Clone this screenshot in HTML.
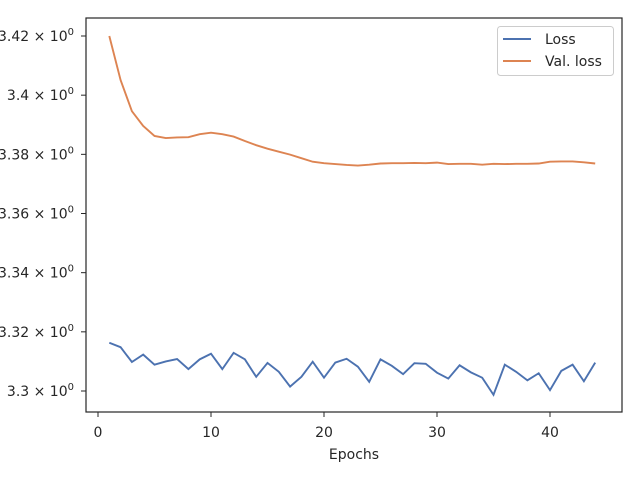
<!DOCTYPE html>
<html><head><meta charset="utf-8"><style>
body{margin:0;background:#fff}
svg text{font-family:"DejaVu Sans","Liberation Sans",sans-serif;fill:#262626}
</style></head><body>
<svg id="chart" width="640" height="480" xmlns="http://www.w3.org/2000/svg">
<rect x="0" y="0" width="640" height="480" fill="#fff"/>
<g id="ticks"></g>
<g id="lines"></g>
<rect x="86" y="18" width="536" height="394" fill="none" stroke="#262626" stroke-width="1.2"/>
<text x="354" y="459" font-size="14" text-anchor="middle">Epochs</text>
<g>
<rect x="497.5" y="26.5" width="116" height="49" rx="3" fill="#fff" fill-opacity="0.8" stroke="#ccc"/>
<line x1="503" y1="39" x2="531" y2="39" stroke="#4c72b0" stroke-width="1.9"/>
<text x="545" y="44" font-size="14">Loss</text>
<line x1="503" y1="61" x2="531" y2="61" stroke="#dd8452" stroke-width="1.9"/>
<text x="545" y="66" font-size="14">Val. loss</text>
</g>
</svg>
<script>
const epochs=[1,2,3,4,5,6,7,8,9,10,11,12,13,14,15,16,17,18,19,20,21,22,23,24,25,26,27,28,29,30,31,32,33,34,35,36,37,38,39,40,41,42,43,44];
const loss=[3.3163,3.3148,3.3098,3.3123,3.3089,3.3100,3.3108,3.3074,3.3107,3.3126,3.3074,3.3129,3.3107,3.3048,3.3095,3.3065,3.3015,3.3048,3.3099,3.3045,3.3096,3.3109,3.3082,3.3031,3.3107,3.3085,3.3057,3.3094,3.3092,3.3062,3.3042,3.3087,3.3063,3.3045,3.2987,3.3089,3.3065,3.3036,3.3060,3.3003,3.3068,3.3089,3.3033,3.3096];
const valLoss=[3.4200,3.4051,3.3946,3.3896,3.3862,3.3855,3.3857,3.3858,3.3868,3.3873,3.3868,3.3860,3.3845,3.3831,3.3819,3.3809,3.3799,3.3787,3.3775,3.3770,3.3767,3.3764,3.3762,3.3765,3.3769,3.3770,3.3770,3.3771,3.3770,3.3772,3.3767,3.3768,3.3768,3.3765,3.3768,3.3767,3.3768,3.3768,3.3769,3.3775,3.3776,3.3776,3.3773,3.3769];
const xTicks=[0,10,20,30,40];
const yTicks=[3.3,3.32,3.34,3.36,3.38,3.4,3.42];
const yTickLabels=["3.3","3.32","3.34","3.36","3.38","3.4","3.42"];
const NS="http://www.w3.org/2000/svg";
function xs(v){return 98+11.3*v;}
function ys(v){return 391-(v-3.3)*2958.3;}
const tg=document.getElementById('ticks');
xTicks.forEach(t=>{
  const l=document.createElementNS(NS,'line');
  
  
  l.setAttribute('x1',xs(t));l.setAttribute('x2',xs(t));l.setAttribute('y1',412);l.setAttribute('y2',417);l.setAttribute('stroke','#262626');
  tg.appendChild(l);
  const tx=document.createElementNS(NS,'text');
  
  
  tx.setAttribute('x',xs(t));tx.setAttribute('y',437);tx.setAttribute('font-size','14');tx.setAttribute('text-anchor','middle');
  tx.textContent=t;tg.appendChild(tx);
});
yTicks.forEach((t,i)=>{
  const l=document.createElementNS(NS,'line');
  
  
  l.setAttribute('x1',81);l.setAttribute('x2',86);l.setAttribute('y1',ys(t));l.setAttribute('y2',ys(t));l.setAttribute('stroke','#262626');
  tg.appendChild(l);
  const tx=document.createElementNS(NS,'text');
  
  
  tx.setAttribute('x',74);tx.setAttribute('y',ys(t)+5);tx.setAttribute('font-size','14');tx.setAttribute('text-anchor','end');
  tx.innerHTML=yTickLabels[i]+' × 10<tspan dy="-6" font-size="10">0</tspan>';
  tg.appendChild(tx);
});
const lg=document.getElementById('lines');
function drawLine(vals,color,name){
  const p=document.createElementNS(NS,'polyline');
  
  
  p.setAttribute('points',vals.map((v,i)=>xs(epochs[i])+','+ys(v)).join(' '));
  p.setAttribute('fill','none');p.setAttribute('stroke',color);p.setAttribute('stroke-width','1.9');
  lg.appendChild(p);
}
drawLine(loss,'#4c72b0','loss-line');
drawLine(valLoss,'#dd8452','val-loss-line');
</script>
</body></html>
